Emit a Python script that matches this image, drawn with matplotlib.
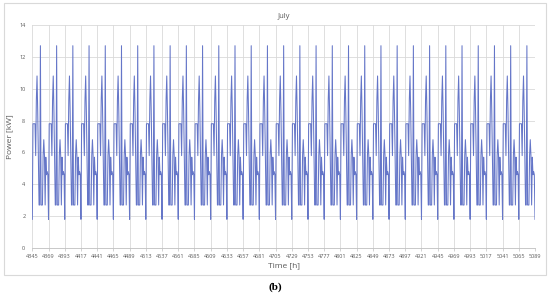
import matplotlib
matplotlib.use("Agg")
import matplotlib.pyplot as plt
import numpy as np

# hourly power over one typical day (kW), repeated for every day of July
day_profile = [1.8, 7.8, 7.8, 7.8, 7.8, 5.8, 9.3, 10.8, 8.6, 5.8, 2.7, 2.7,
               12.7, 2.7, 2.7, 2.7, 5.8, 6.8, 5.8, 2.7, 5.7, 4.6, 4.8, 4.6]
hour_start = 4345
hour_end = 5089
tick_hours = list(range(4345, 5090, 24))
y_ticks = [0, 2, 4, 6, 8, 10, 12, 14]

hours = np.arange(hour_start, hour_end + 1)
power = np.tile(day_profile, 32)[:len(hours)]

plt.rcParams["font.family"] = ["Open Sans", "DejaVu Sans"]
grey = "#595959"

fig = plt.figure(figsize=(5.5, 2.94), dpi=100)
# chart area frame (Excel style)
frame = plt.Rectangle((4 / 550, 1 - 275 / 294), 542 / 550, 272 / 294,
                      transform=fig.transFigure, fill=False,
                      edgecolor="#d9d9d9", linewidth=0.8)
fig.patches.append(frame)

ax = fig.add_axes([32.3 / 550, 1 - 248 / 294, (535 - 32.3) / 550, (248 - 25) / 294])
ax.plot(hours, power, color="#6576c8", linewidth=0.75)

ax.set_xlim(hour_start, hour_end)
ax.set_ylim(0, 14)
ax.set_xticks(tick_hours)
ax.set_yticks(y_ticks)
ax.tick_params(axis="x", labelsize=4, colors=grey, length=2, width=0.5,
               color="#bfbfbf", pad=2)
ax.tick_params(axis="y", labelsize=4, colors=grey, length=0, pad=5)
ax.grid(True, color="#d9d9d9", linewidth=0.6)
ax.set_axisbelow(True)
for s in ["top", "right", "left"]:
    ax.spines[s].set_visible(False)
ax.spines["bottom"].set_color("#bfbfbf")
ax.spines["bottom"].set_linewidth(0.6)

ax.set_title("July", fontsize=5.5, color=grey, pad=5)
ax.set_ylabel("Power [kW]", fontsize=6, color=grey, labelpad=4)
ax.set_xlabel("Time [h]", fontsize=6, color=grey, labelpad=3)

fig.text(0.5, 1 - 287 / 294, "(b)", ha="center", va="center",
         fontsize=8, fontweight="bold", family="Liberation Serif")

fig.savefig("out.png", dpi=100)
